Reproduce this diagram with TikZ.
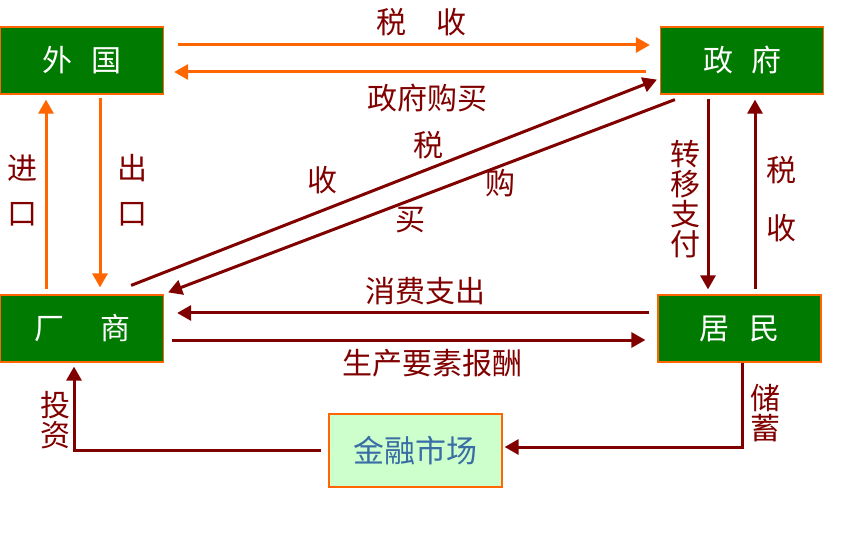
\documentclass[tikz,border=0pt]{standalone}
\usepackage{fontspec}
\newfontfamily\cjk{Noto Sans CJK SC}
\usetikzlibrary{arrows.meta}
\definecolor{verde}{RGB}{0,122,0}
\definecolor{naranja}{RGB}{255,102,0}
\definecolor{granate}{RGB}{128,0,0}
\definecolor{verdeclaro}{RGB}{204,255,204}
\definecolor{azulacero}{RGB}{58,108,165}
\tikzset{
  caja/.style={draw=naranja,line width=1.2pt,fill=verde,text=white,inner sep=0pt,
    minimum width=163pt,minimum height=67pt,font=\cjk\fontsize{30}{30}\selectfont},
  flujo/.style={line width=3pt,-{Triangle[length=14pt,width=15pt]}},
  rotulo/.style={text=granate,inner sep=0pt,align=center,font=\cjk\fontsize{30}{30}\selectfont}
}
\begin{document}
\begin{tikzpicture}[x=1pt,y=-1pt]

% Marco
\useasboundingbox (0,0) rectangle (848,534);

% Sectores
\node[caja] (waiguo) at (82,60.5) {外\hspace{20pt}国};
\node[caja] (zhengfu) at (742,60.5) {政\hspace{18pt}府};
\node[caja] (changshang) at (82,328.5) {厂\hspace{36pt}商};
\node[caja] (jumin) at (739.5,328.5) {居\hspace{20pt}民};
\node[caja,fill=verdeclaro,text=azulacero,minimum width=173pt,minimum height=73pt,
  font=\cjk\fontsize{31}{31}\selectfont] (jinrong) at (415.5,450.5) {金融市场};

% Flujos con el exterior
\draw[flujo,naranja] ([xshift=14pt,yshift=15.5pt]waiguo.east) -- ([xshift=-10pt,yshift=15.5pt]zhengfu.west);
\draw[flujo,naranja] ([xshift=-14pt,yshift=-11.5pt]zhengfu.west) -- ([xshift=10pt,yshift=-11.5pt]waiguo.east);
\draw[flujo,naranja] ([xshift=-36pt,yshift=5pt]changshang.north) -- ([xshift=-36pt,yshift=-5pt]waiguo.south);
\draw[flujo,naranja] ([xshift=18pt,yshift=-3pt]waiguo.south) -- ([xshift=18pt,yshift=7pt]changshang.north);

% Flujos con el gobierno
\draw[flujo,granate] ([xshift=-33pt,yshift=9pt]changshang.north east) -- ([xshift=-3pt,yshift=15pt]zhengfu.south west);
\draw[flujo,granate] ([xshift=15pt,yshift=-5pt]zhengfu.south west) -- ([xshift=4pt,yshift=2pt]changshang.north east);
\draw[flujo,granate] ([xshift=-34pt,yshift=-4pt]zhengfu.south) -- ([xshift=-31.5pt,yshift=5pt]jumin.north);
\draw[flujo,granate] ([xshift=15.5pt,yshift=5pt]jumin.north) -- ([xshift=13pt,yshift=-5pt]zhengfu.south);

% Flujos entre hogares y empresas
\draw[flujo,granate] ([xshift=-8pt,yshift=15.5pt]jumin.west) -- ([xshift=13pt,yshift=15.5pt]changshang.east);
\draw[flujo,granate] ([xshift=8pt,yshift=-11.5pt]changshang.east) -- ([xshift=-12pt,yshift=-11.5pt]jumin.west);

% Ahorro e inversion
\draw[flujo,granate] ([xshift=2.5pt]jumin.south) |- ([xshift=2pt,yshift=3.5pt]jinrong.east);
\draw[flujo,granate] ([xshift=-7pt,yshift=0.5pt]jinrong.west) -| ([xshift=-8pt,yshift=-4pt]changshang.south);

% Rotulos
\node[rotulo] (tax1) at (421,22) {税\hspace{30pt}收};
\node[rotulo] (govbuy1) at (427,98) {政府购买};
\node[rotulo,font=\cjk\fontsize{30}{45}\selectfont] (import) at (22,190.5) {进\\口};
\node[rotulo,font=\cjk\fontsize{30}{45}\selectfont] (export) at (132,190.5) {出\\口};
\node[rotulo] (tax2a) at (428,145) {税};
\node[rotulo] (tax2b) at (322,180) {收};
\node[rotulo] (govbuy2a) at (500,183) {购};
\node[rotulo] (govbuy2b) at (410,220) {买};
\node[rotulo] (transfer) at (685,199) {转\\移\\支\\付};
\node[rotulo,font=\cjk\fontsize{30}{58}\selectfont] (tax3) at (781,199) {税\\收};
\node[rotulo] (consume) at (425,291) {消费支出};
\node[rotulo] (factor) at (432,363) {生产要素报酬};
\node[rotulo] (saving) at (765,413) {储\\蓄};
\node[rotulo] (invest) at (55,420) {投\\资};

\end{tikzpicture}
\end{document}
